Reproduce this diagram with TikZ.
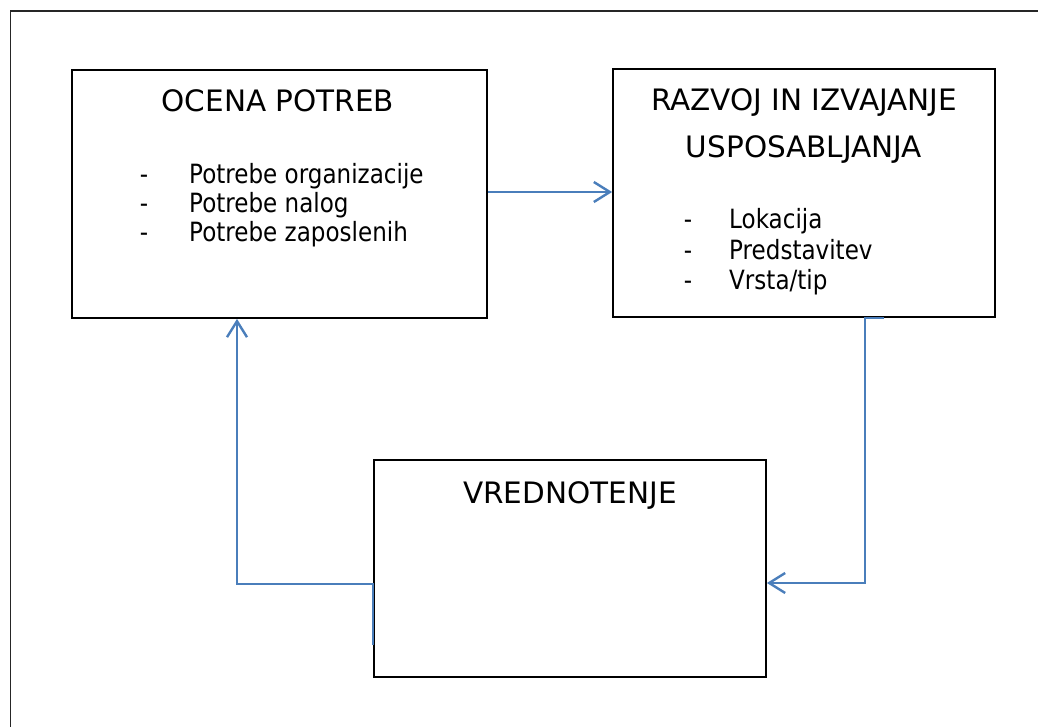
\documentclass[tikz,border=0pt]{standalone}
\usepackage{fontspec}
\setmainfont{DejaVu Sans}
\newfontfamily\tfont{DejaVu Sans}
\newfontfamily\lfont[FakeStretch=0.87]{DejaVu Sans}
\usetikzlibrary{arrows.meta,calc}
\definecolor{conncol}{RGB}{74,126,187}
\tikzset{
  box/.style={draw=black,line width=1.8pt,minimum width=#1,inner sep=0pt},
  ttl/.style={anchor=base,inner sep=0pt,font=\tfont\fontsize{29.5}{34}\selectfont},
  itm/.style={anchor=base west,inner sep=0pt,font=\lfont\fontsize{26.5}{30}\selectfont},
  dsh/.style={anchor=base,inner sep=0pt,font=\lfont\fontsize{26.5}{30}\selectfont},
  conn/.style={draw=conncol,line width=2.4pt},
  tip/.style={-{Straight Barb[length=16pt,width=20pt,line width=2.4pt]}},
}
\begin{document}
\begin{tikzpicture}[x=1pt,y=-1pt]
\useasboundingbox (0,0) rectangle (1038,727);
\fill[white] (0,0) rectangle (1038,727);
% outer frame (only top and left visible)
\draw[line width=1.8pt,black!85] (10.5,727) -- (10.5,11) -- (1038,11);
% boxes
\node[box=415pt,minimum height=248pt] (b1) at (279.5,194) {};
\node[box=382pt,minimum height=248pt] (b2) at (804,193) {};
\node[box=392pt,minimum height=217pt] (b3) at (570,568.5) {};
% box 1 text
\node[ttl] (t1) at (278,111.5) {OCENA POTREB};
\node[dsh] (d11) at (144,184) {-};
\node[itm] (i11) at (189,184) {Potrebe organizacije};
\node[dsh] (d12) at (144,213) {-};
\node[itm] (i12) at (189,213) {Potrebe nalog};
\node[dsh] (d13) at (144,242) {-};
\node[itm] (i13) at (189,242) {Potrebe zaposlenih};
% box 2 text
\node[ttl] (t2a) at (804,111) {RAZVOJ IN IZVAJANJE};
\node[ttl] (t2b) at (804,158) {USPOSABLJANJA};
\node[dsh] (d21) at (688,229) {-};
\node[itm] (i21) at (729,229) {Lokacija};
\node[dsh] (d22) at (688,260) {-};
\node[itm] (i22) at (729,260) {Predstavitev};
\node[dsh] (d23) at (688,289) {-};
\node[itm] (i23) at (729,289) {Vrsta/tip};
% box 3 text
\node[ttl] (t3) at (570,503.5) {VREDNOTENJE};
% connectors
\draw[conn,tip] ([yshift=2pt]b1.east) -- ([yshift=1pt]b2.west);
\draw[conn,tip] ([xshift=272pt]b2.south west) -- ([xshift=253pt]b2.south west)
   |- ([yshift=-14.5pt]b3.east);
\draw[conn,tip] ([yshift=-76.5pt]b3.west) -- ([yshift=-15.5pt]b3.west)
   -| ([xshift=-42.5pt]b1.south);
\end{tikzpicture}
\end{document}
